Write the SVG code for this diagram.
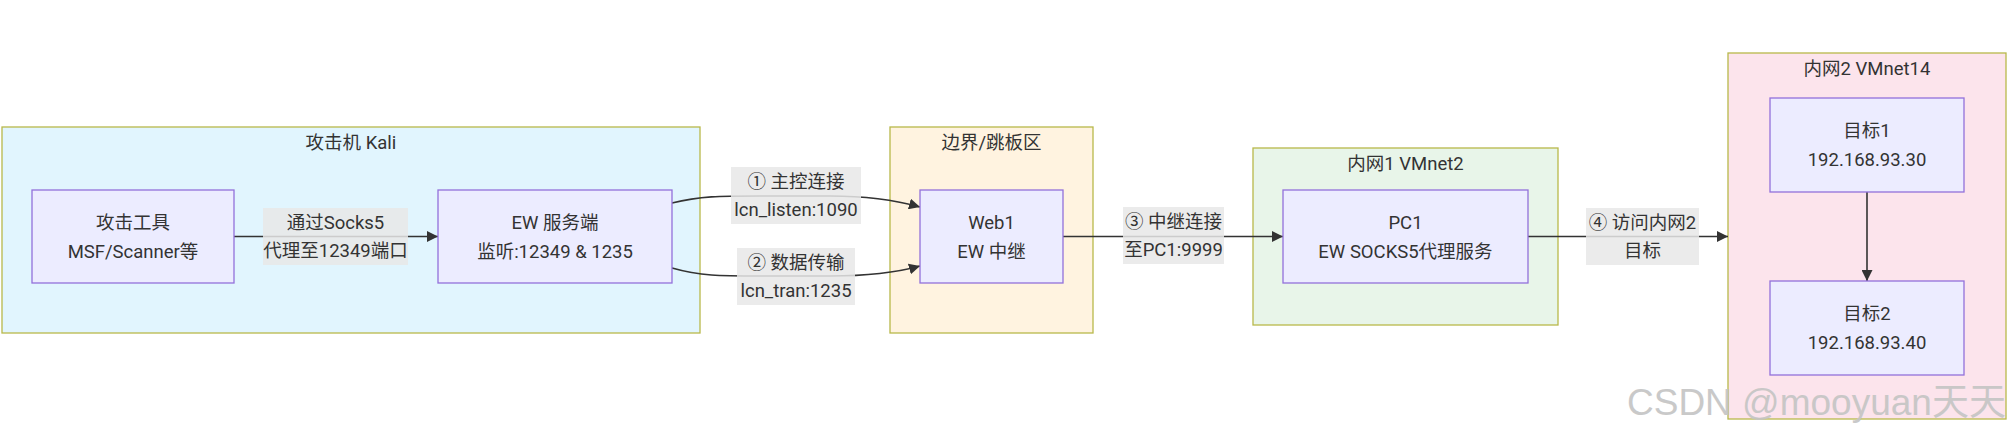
<svg xmlns="http://www.w3.org/2000/svg" width="2015" height="437" viewBox="0 0 2015 437">
<style>
  text { font-family: Roboto, "Noto Sans CJK SC", sans-serif; font-size: 18.5px; fill: #333333; text-anchor: middle; }
  .cluster { stroke: #b8b84a; stroke-width: 1.3; }
  .node rect { fill: #ECECFF; stroke: #9370DB; stroke-width: 1.3; }
  .lbl { fill: #e8e8e8; opacity: 0.85; }
  .edge { fill: none; stroke: #333333; stroke-width: 1.6; marker-end: url(#arrow); }
  .wm { font-family: "Liberation Sans", "Noto Sans CJK SC", sans-serif; font-size: 37px; fill: #c4c4c4; text-anchor: start; opacity: 0.9; }
</style>
<defs>
  <marker id="arrow" viewBox="0 0 10 10" refX="10" refY="5" markerWidth="11" markerHeight="11" markerUnits="userSpaceOnUse" orient="auto">
    <path d="M0,0 L10,5 L0,10 z" fill="#333333"/>
  </marker>
</defs>
<rect width="2015" height="437" fill="#ffffff"/>

<g id="cluster-kali">
  <rect class="cluster" x="2" y="127" width="698" height="206" fill="#E1F5FE"/>
  <text x="351" y="149">攻击机 Kali</text>
</g>
<g id="cluster-border">
  <rect class="cluster" x="890" y="127" width="203" height="206" fill="#FFF3E0"/>
  <text x="991.5" y="149">边界/跳板区</text>
</g>
<g id="cluster-vmnet2">
  <rect class="cluster" x="1253" y="148" width="305" height="177" fill="#E8F5E9"/>
  <text x="1405.5" y="170">内网1 VMnet2</text>
</g>
<g id="cluster-vmnet14">
  <rect class="cluster" x="1728" y="53" width="278" height="366" fill="#FCE4EC"/>
  <text x="1867" y="75">内网2 VMnet14</text>
</g>

<g id="connectors">
  <path class="edge" d="M234,236.5 L438,236.5"/>
  <path class="edge" d="M672,203 C700,196 720,196 760,196 L830,196 C870,196 895,200 920,207"/>
  <path class="edge" d="M672,268 C700,276 720,276 760,276 L830,276 C870,276 895,273 920,266"/>
  <path class="edge" d="M1063,236.5 L1283,236.5"/>
  <path class="edge" d="M1528,236.5 L1728,236.5"/>
  <path class="edge" d="M1867,192 L1867,281"/>
  <g id="edge-labels">
    <rect class="lbl" x="263" y="208" width="145" height="57"/>
    <text x="335.5" y="229">通过Socks5</text>
    <text x="335.5" y="257">代理至12349端口</text>
    <rect class="lbl" x="731" y="167" width="130" height="57"/>
    <text x="796" y="188">① 主控连接</text>
    <text x="796" y="216">lcn_listen:1090</text>
    <rect class="lbl" x="737" y="248" width="118" height="57"/>
    <text x="796" y="269">② 数据传输</text>
    <text x="796" y="297">lcn_tran:1235</text>
    <rect class="lbl" x="1123" y="207" width="101" height="57"/>
    <text x="1173.5" y="228">③ 中继连接</text>
    <text x="1173.5" y="256">至PC1:9999</text>
    <rect class="lbl" x="1586" y="208" width="113" height="57"/>
    <text x="1642.5" y="229">④ 访问内网2</text>
    <text x="1642.5" y="257">目标</text>
  </g>
</g>

<g id="node-tool" class="node">
  <rect x="32" y="190" width="202" height="93"/>
  <text x="133" y="229">攻击工具</text>
  <text x="133" y="258">MSF/Scanner等</text>
</g>
<g id="node-ew" class="node">
  <rect x="438" y="190" width="234" height="93"/>
  <text x="555" y="229">EW 服务端</text>
  <text x="555" y="258">监听:12349 &amp; 1235</text>
</g>
<g id="node-web1" class="node">
  <rect x="920" y="190" width="143" height="93"/>
  <text x="991.5" y="229">Web1</text>
  <text x="991.5" y="258">EW 中继</text>
</g>
<g id="node-pc1" class="node">
  <rect x="1283" y="190" width="245" height="93"/>
  <text x="1405.5" y="229">PC1</text>
  <text x="1405.5" y="258">EW SOCKS5代理服务</text>
</g>
<g id="node-target1" class="node">
  <rect x="1770" y="98" width="194" height="94"/>
  <text x="1867" y="137">目标1</text>
  <text x="1867" y="166">192.168.93.30</text>
</g>
<g id="node-target2" class="node">
  <rect x="1770" y="281" width="194" height="94"/>
  <text x="1867" y="320">目标2</text>
  <text x="1867" y="349">192.168.93.40</text>
</g>

<text class="wm" x="1627" y="415">CSDN @mooyuan天天</text>
</svg>
